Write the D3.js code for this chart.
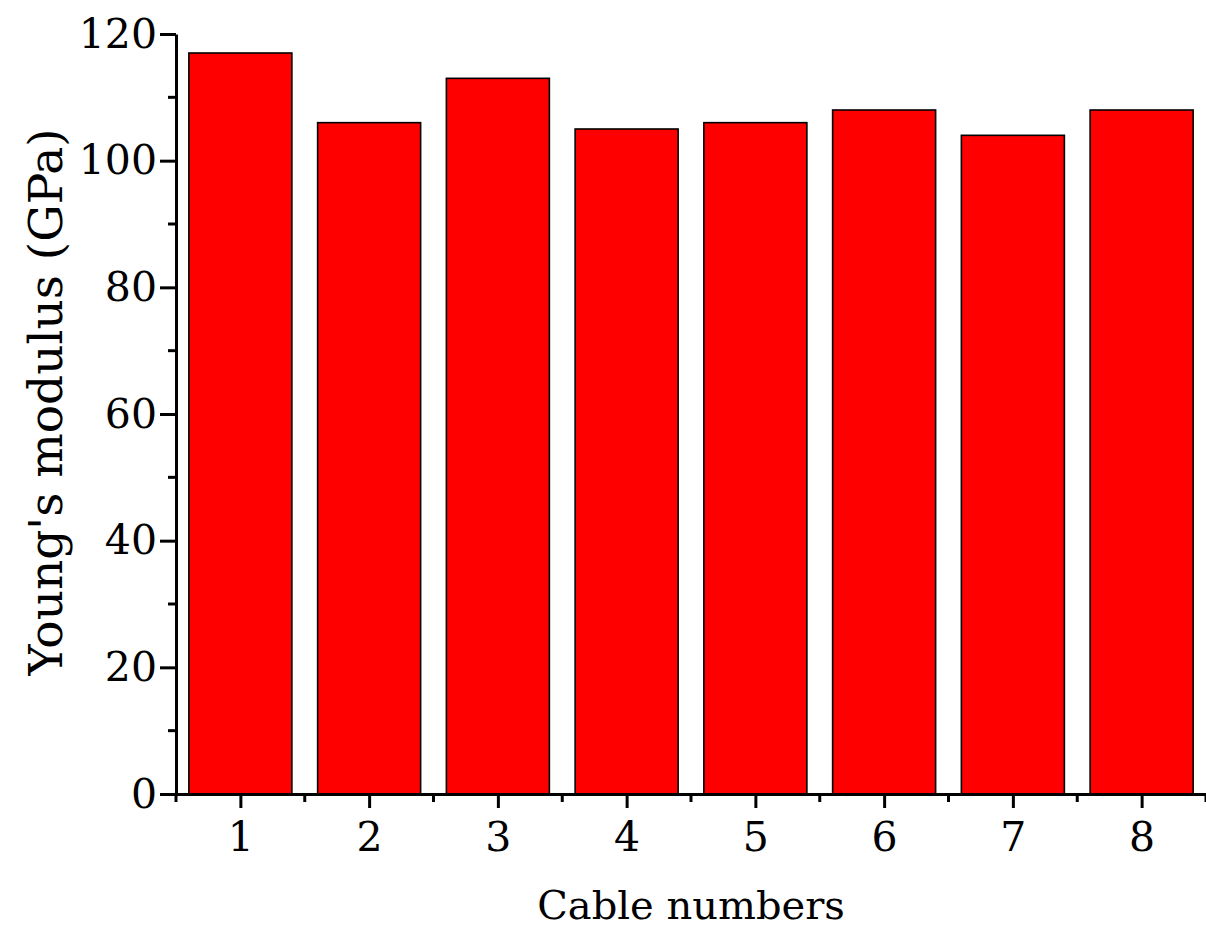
<!DOCTYPE html>
<html>
<head>
<meta charset="utf-8">
<script src="https://cdn.jsdelivr.net/npm/d3@7"></script>
<style>
  html, body { margin: 0; padding: 0; background: #fff; }
  svg { display: block; }
  text { font-family: "DejaVu Serif", "Liberation Serif", serif; fill: #000; }
</style>
</head>
<body>
<svg id="chart" width="1206" height="930"></svg>
<script>
// Young's modulus measured for each cable
const cables = [1, 2, 3, 4, 5, 6, 7, 8];
const modulus = [117, 106, 113, 105, 106, 108, 104, 108];
const yTicks = [0, 20, 40, 60, 80, 100, 120];
const yMinorTicks = [10, 30, 50, 70, 90, 110];

const svg = d3.select("#chart");
const plotLeft = 176, plotRight = 1206, plotTop = 34, plotBottom = 794;

const x = d3.scaleLinear().domain([0.5, 8.5]).range([plotLeft, plotRight]);
const y = d3.scaleLinear().domain([0, 120]).range([plotBottom, plotTop]);
const barW = x(1.3) - x(0.5); // bars span 0.8 of a category

// bars
svg.append("g")
  .selectAll("rect")
  .data(cables.map((c, i) => ({ c, v: modulus[i] })))
  .join("rect")
  .attr("x", d => x(d.c) - barW / 2)
  .attr("y", d => y(d.v))
  .attr("width", barW)
  .attr("height", d => y(0) - y(d.v))
  .attr("fill", "#ff0000")
  .attr("stroke", "#000")
  .attr("stroke-width", 1.6);

// x axis
const xAxis = svg.append("g").attr("transform", `translate(0,${plotBottom})`);
xAxis.call(d3.axisBottom(x).tickValues(cables).tickFormat(d3.format("d"))
  .tickSizeInner(14).tickSizeOuter(0).tickPadding(14));
xAxis.append("g").selectAll("line")
  .data(d3.range(0.5, 8.6, 1))
  .join("line")
  .attr("x1", d => x(d)).attr("x2", d => x(d))
  .attr("y1", 0).attr("y2", 8)
  .attr("stroke", "#000").attr("stroke-width", 3);

// y axis
const yAxis = svg.append("g").attr("transform", `translate(${plotLeft},0)`);
yAxis.call(d3.axisLeft(y).tickValues(yTicks).tickFormat(d3.format("d"))
  .tickSizeInner(16).tickSizeOuter(0).tickPadding(3));
yAxis.append("g").selectAll("line")
  .data(yMinorTicks)
  .join("line")
  .attr("x1", -8).attr("x2", 0)
  .attr("y1", d => y(d)).attr("y2", d => y(d))
  .attr("stroke", "#000").attr("stroke-width", 3);

svg.selectAll(".domain").attr("stroke", "#000").attr("stroke-width", 3);
svg.selectAll(".tick line").attr("stroke", "#000").attr("stroke-width", 3);
svg.selectAll(".tick text").style("font-family", "'DejaVu Serif', serif")
  .style("font-size", "41px").attr("fill", "#000");

// axis titles
svg.append("text")
  .attr("x", (plotLeft + plotRight) / 2).attr("y", 919)
  .attr("text-anchor", "middle")
  .style("font-size", "40px")
  .text("Cable numbers");

svg.append("text")
  .attr("transform", `translate(62,${(plotTop + plotBottom) / 2 - 12}) rotate(-90)`)
  .attr("text-anchor", "middle")
  .style("font-size", "47px")
  .text("Young's modulus (GPa)");
</script>
</body>
</html>
